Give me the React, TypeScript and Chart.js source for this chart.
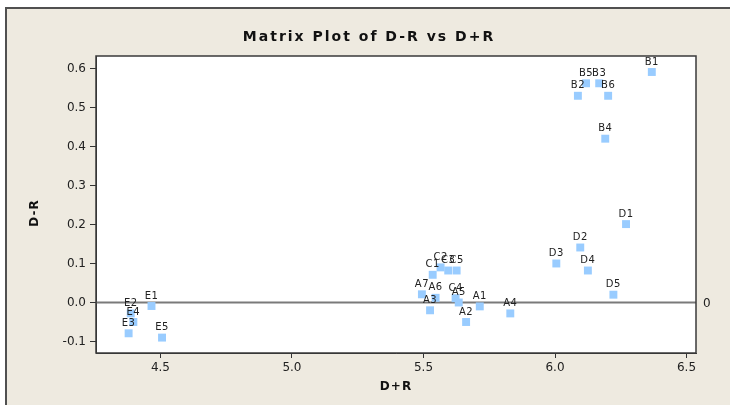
import React, { useEffect, useRef } from "react";
import { Chart, registerables } from "chart.js";

Chart.register(...registerables);

const pointLabels = [
  "A1", "A2", "A3", "A4", "A5", "A6", "A7",
  "B1", "B2", "B3", "B4", "B5", "B6",
  "C1", "C2", "C3", "C4", "C5",
  "D1", "D2", "D3", "D4", "D5",
  "E1", "E2", "E3", "E4", "E5",
];
const dPlusR = [
  5.714, 5.662, 5.525, 5.83, 5.634, 5.546, 5.494,
  6.368, 6.087, 6.168, 6.191, 6.118, 6.202,
  5.535, 5.565, 5.594, 5.622, 5.626,
  6.27, 6.096, 6.005, 6.125, 6.222,
  4.466, 4.387, 4.379, 4.397, 4.506,
];
const dMinusR = [
  -0.01, -0.05, -0.02, -0.028, 0.0, 0.012, 0.021,
  0.591, 0.53, 0.562, 0.42, 0.562, 0.53,
  0.071, 0.09, 0.082, 0.011, 0.082,
  0.201, 0.141, 0.1, 0.082, 0.02,
  -0.009, -0.028, -0.079, -0.05, -0.09,
];
const xTickValues = [4.5, 5.0, 5.5, 6.0, 6.5];
const xTickLabels = ["4.5", "5.0", "5.5", "6.0", "6.5"];
const yTickValues = [-0.1, 0.0, 0.1, 0.2, 0.3, 0.4, 0.5, 0.6];
const yTickLabels = ["-0.1", "0.0", "0.1", "0.2", "0.3", "0.4", "0.5", "0.6"];
const referenceY = 0;
const referenceLabel = "0";
const titleText = "Matrix Plot of D-R vs D+R";
const xTitle = "D+R";
const yTitle = "D-R";

const FONT = "'DejaVu Sans', Verdana, sans-serif";

export default function App() {
  const ref = useRef<HTMLCanvasElement>(null);

  useEffect(() => {
    document.body.style.margin = "0";
    const canvas = ref.current;
    if (!canvas) return;

    const decor = {
      id: "decor",
      beforeDraw(chart: any) {
        const { ctx, width, height, chartArea } = chart;
        ctx.save();
        ctx.fillStyle = "#ffffff";
        ctx.fillRect(0, 0, width, height);
        ctx.fillStyle = "#EEEAE0";
        ctx.fillRect(5, 7, width, height);
        ctx.strokeStyle = "#505050";
        ctx.lineWidth = 2;
        ctx.strokeRect(6, 8, width + 20, height + 20);
        ctx.fillStyle = "#ffffff";
        ctx.fillRect(chartArea.left, chartArea.top, chartArea.width, chartArea.height);
        ctx.restore();
      },
      beforeDatasetsDraw(chart: any) {
        const { ctx, chartArea, scales } = chart;
        const y = scales.y.getPixelForValue(referenceY);
        ctx.save();
        ctx.strokeStyle = "#7a7a7a";
        ctx.lineWidth = 2;
        ctx.beginPath();
        ctx.moveTo(chartArea.left, y);
        ctx.lineTo(chartArea.right, y);
        ctx.stroke();
        ctx.fillStyle = "#222";
        ctx.font = `12px ${FONT}`;
        ctx.textAlign = "left";
        ctx.textBaseline = "middle";
        ctx.fillText(referenceLabel, chartArea.right + 7, y + 1);
        ctx.restore();
      },
      afterDatasetsDraw(chart: any) {
        const { ctx } = chart;
        const meta = chart.getDatasetMeta(0);
        ctx.save();
        ctx.fillStyle = "#222";
        ctx.font = `10px ${FONT}`;
        (ctx as any).letterSpacing = "0.5px";
        ctx.textAlign = "center";
        ctx.textBaseline = "middle";
        meta.data.forEach((el: any, i: number) => {
          ctx.fillText(pointLabels[i], el.x, el.y - 10);
        });
        ctx.restore();
      },
      afterDraw(chart: any) {
        const { ctx, chartArea, width } = chart;
        ctx.save();
        ctx.strokeStyle = "#3a3a3a";
        ctx.lineWidth = 1.5;
        ctx.strokeRect(chartArea.left, chartArea.top, chartArea.width, chartArea.height);
        ctx.fillStyle = "#111";
        ctx.textAlign = "center";
        ctx.textBaseline = "middle";
        ctx.font = `bold 14px ${FONT}`;
        (ctx as any).letterSpacing = "2px";
        ctx.fillText(titleText, width / 2 + 4, 37);
        ctx.font = `bold 12px ${FONT}`;
        (ctx as any).letterSpacing = "1px";
        ctx.fillText(xTitle, (chartArea.left + chartArea.right) / 2, 387);
        ctx.translate(35, 213);
        ctx.rotate(-Math.PI / 2);
        ctx.fillText(yTitle, 0, 0);
        ctx.restore();
      },
    };

    const chart = new Chart(canvas, {
      type: "scatter",
      data: {
        datasets: [
          {
            label: "D-R vs D+R",
            data: dPlusR.map((x, i) => ({ x, y: dMinusR[i] })),
            pointStyle: "rect",
            pointRadius: 5.6,
            pointHoverRadius: 5.6,
            backgroundColor: "#99CCFF",
            borderWidth: 0,
          },
        ],
      },
      plugins: [decor],
      options: {
        animation: false,
        responsive: false,
        events: [],
        layout: { padding: { left: 0, top: 56, right: 34, bottom: 0 } },
        plugins: {
          legend: { display: false },
          title: { display: false },
          tooltip: { enabled: false },
        },
        scales: {
          x: {
            type: "linear",
            min: 4.255,
            max: 6.536,
            afterBuildTicks: (s: any) => {
              s.ticks = xTickValues.map((v) => ({ value: v }));
            },
            afterFit: (s: any) => {
              s.height = 52;
            },
            ticks: {
              callback: (_v: any, i: number) => xTickLabels[i],
              font: { family: FONT, size: 12 },
              color: "#222",
              padding: 3,
              maxRotation: 0,
            },
            grid: {
              drawOnChartArea: false,
              drawTicks: true,
              tickLength: 5,
              color: "#333",
            },
            border: { display: true, color: "#333" },
          },
          y: {
            type: "linear",
            min: -0.1295,
            max: 0.632,
            afterBuildTicks: (s: any) => {
              s.ticks = yTickValues.map((v) => ({ value: v }));
            },
            afterFit: (s: any) => {
              s.width = 96;
            },
            ticks: {
              callback: (_v: any, i: number) => yTickLabels[i],
              font: { family: FONT, size: 12 },
              color: "#222",
              padding: 4,
            },
            grid: {
              drawOnChartArea: false,
              drawTicks: true,
              tickLength: 6,
              color: "#333",
            },
            border: { display: true, color: "#333" },
          },
        },
      },
    });

    return () => chart.destroy();
  }, []);

  return (
    <div style={{ position: "absolute", left: 0, top: 0, width: 730, height: 405 }}>
      <canvas ref={ref} width={730} height={405} style={{ display: "block" }} />
    </div>
  );
}
